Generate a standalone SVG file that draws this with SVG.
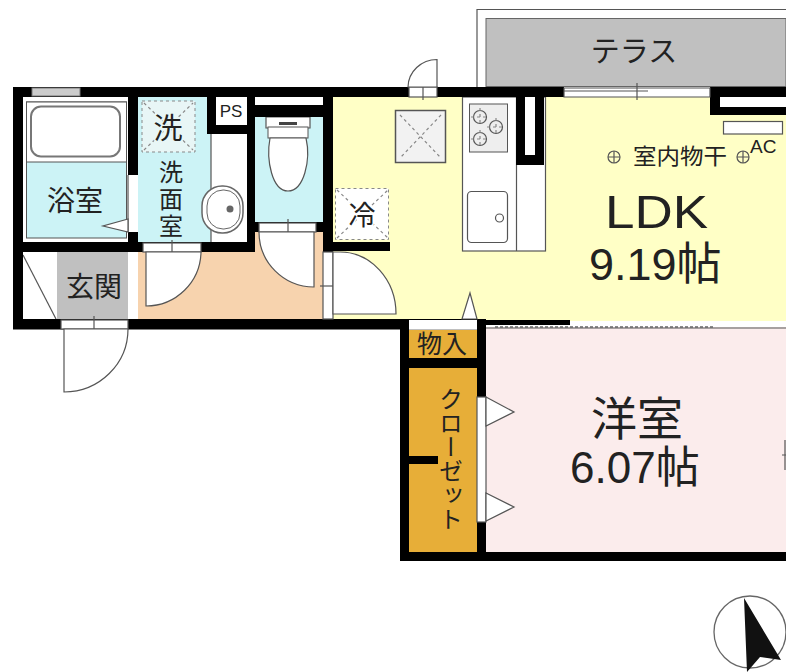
<svg xmlns="http://www.w3.org/2000/svg" width="786" height="672" viewBox="0 0 786 672">
<style>
text{font-family:"Noto Sans CJK JP","Noto Sans",sans-serif;fill:#222}
.l{font-family:"Liberation Sans","Noto Sans CJK JP",sans-serif}
.v{writing-mode:vertical-rl;text-anchor:start}
.w{fill:#000}
.f{fill:#fff;stroke:#555;stroke-width:1.2}
.t{fill:none;stroke:#555;stroke-width:1.2}
.x{fill:none;stroke:#888;stroke-width:1.2;stroke-dasharray:3 3}
</style>
<rect width="786" height="672" fill="#fff"/>
<g id="terrace">
<path class="t" d="M477 87V9.500H786"/>
<rect x="486" y="18.500" width="300" height="68" fill="#c0c0c0" stroke="#666"/>
<text x="634" y="62" font-size="29" text-anchor="middle">テラス</text>
</g>
<g id="ldk">
<rect x="333" y="97" width="453" height="224" fill="#ffffc6"/>
<rect x="720" y="97" width="66" height="10" fill="#fff"/>
<rect x="723.500" y="121.500" width="59" height="12.500" class="f"/>
<circle cx="614" cy="157" r="6" class="t"/><path class="t" d="M608 157h12M614 151v12"/>
<text x="633" y="164" font-size="22" textLength="94" lengthAdjust="spacingAndGlyphs">室内物干</text>
<circle cx="743" cy="157" r="6" class="t"/><path class="t" d="M737 157h12M743 151v12"/>
<text class="l" x="750" y="153" font-size="19">AC</text>
<text class="l" x="605" y="228" font-size="46" textLength="103" lengthAdjust="spacingAndGlyphs">LDK</text>
<text class="l" x="589" y="280" font-size="45">9.19帖</text>
</g>
<g id="kitchen">
<rect x="462.500" y="97" width="83" height="154" class="f"/>
<path class="t" d="M516.500 97V251"/>
<rect x="469.500" y="104" width="38" height="48" fill="#eee" stroke="#555"/>
<circle cx="480" cy="117" r="6.500" class="t" stroke-width="1.500"/><circle cx="496" cy="127" r="6.500" class="t"/><circle cx="480" cy="139" r="6.500" class="t"/>
<path class="x" d="M480 108v18M471 117h18M496 118v18M487 127h18M480 130v18M471 139h18" stroke-dasharray="2 14"/>
<rect x="467.500" y="191.500" width="40" height="51" rx="4" class="f"/>
<circle cx="499.500" cy="218" r="4" class="f"/>
<rect x="516" y="97" width="9" height="67" class="w"/><rect x="535" y="97" width="9" height="67" class="w"/><rect x="516" y="155" width="28" height="10" class="w"/><rect x="525" y="97" width="10" height="58" fill="#fff"/>
<rect x="395.500" y="110.500" width="50" height="52" fill="#f2f2f2" stroke="#555" stroke-width="1.500"/>
<path class="x" d="M400 115L441 158M441 115L400 158"/>
</g>
<g id="fridge">
<rect x="335.500" y="188.500" width="53" height="51" fill="#fff" stroke="#888" stroke-dasharray="3 3"/>
<path class="x" d="M337 238L388 190M337 190L388 238"/>
<text x="362" y="225" font-size="27" text-anchor="middle" style="paint-order:stroke" stroke="#fff" stroke-width="3">冷</text>
</g>
<g id="bath">
<rect x="23" y="97" width="105" height="145" fill="#fff"/>
<rect x="26.500" y="102" width="100" height="136" fill="#ccf3f6" stroke="#555"/>
<rect x="26.500" y="102" width="100" height="60" fill="#fff" stroke="#555"/>
<rect x="31" y="106.500" width="89" height="50" rx="10" fill="#fff" stroke="#777" stroke-width="2"/>
<text x="75" y="211" font-size="28" text-anchor="middle">浴室</text>
</g>
<g id="washroom">
<rect x="138" y="97" width="73" height="145" fill="#ccf3f6"/>
<rect x="211" y="134" width="36" height="108" fill="#fff"/>
<path class="t" d="M211 134V242"/>
<rect x="142" y="101" width="53" height="51" fill="#e8f6f6" stroke="#888" stroke-dasharray="3 3"/>
<path class="x" d="M144 150L193 103M144 103L193 150"/>
<text x="168" y="139" font-size="29" text-anchor="middle" style="paint-order:stroke" stroke="#e8f6f6" stroke-width="3">洗</text>
<text class="v" x="171" y="160" font-size="24" letter-spacing="3">洗面室</text>
<rect x="202" y="186" width="41" height="47" rx="20" fill="#fff" stroke="#666" stroke-width="1.500"/>
<rect x="207" y="190" width="33" height="39" rx="16" fill="#fff" stroke="#666"/>
<circle cx="230" cy="209" r="3.500" fill="#666"/>
</g>
<g id="ps">
<rect x="216" y="97" width="31" height="28" fill="#fff"/>
<text class="l" x="231" y="117" font-size="17" text-anchor="middle">PS</text>
</g>
<g id="toilet">
<rect x="255" y="117" width="68" height="105" fill="#ccf3f6"/>
<rect x="255" y="97" width="68" height="8" fill="#fff"/>
<path class="f" d="M266 117H310V128H266Z"/>
<rect x="268" y="127" width="40" height="11" fill="#fff" stroke="#555"/>
<path class="f" d="M270 138C266 160 272 191 288 191C304 191 311 160 306 138Z"/>
<rect x="279" y="122" width="18" height="3" fill="#444"/>
</g>
<g id="hall">
<path fill="#f7d3ae" d="M138 252H255V232H323V319H138Z"/>
<rect x="128" y="252" width="10" height="67" fill="#fff"/>
</g>
<g id="entrance">
<rect x="23" y="252" width="34" height="67" fill="#fff"/>
<rect x="57" y="252" width="71" height="67" fill="#c0c0c0"/>
<path class="t" d="M23 255L56 319"/>
<text x="94" y="297" font-size="28" text-anchor="middle">玄関</text>
</g>
<g id="western-room">
<rect x="486" y="327" width="300" height="226" fill="#fbecec"/>
<text x="637" y="435" font-size="46" text-anchor="middle">洋室</text>
<text class="l" x="570" y="483" font-size="44">6.07帖</text>
</g>
<g id="storage">
<rect x="409" y="330" width="68" height="28" fill="#e7ae38"/>
<text x="442" y="353" font-size="25" text-anchor="middle">物入</text>
</g>
<g id="closet">
<rect x="409" y="368" width="68" height="184" fill="#e7ae38"/>
<text class="v" x="451" y="387" font-size="24">クローゼット</text>
</g>
<g id="walls">
<rect x="13" y="87" width="551" height="10" class="w"/>
<rect x="13" y="87" width="10" height="242" class="w"/>
<rect x="13" y="319" width="473" height="10.500" class="w"/>
<rect x="13" y="242" width="242" height="10" class="w"/>
<rect x="128" y="97" width="10" height="155" class="w"/>
<rect x="207" y="97" width="9" height="37" class="w"/>
<rect x="207" y="125" width="48" height="9" class="w"/>
<rect x="247" y="97" width="8" height="155" class="w"/>
<rect x="255" y="105" width="68" height="12" class="w"/>
<rect x="323" y="97" width="10" height="155" class="w"/>
<rect x="253" y="222" width="78" height="10" class="w"/>
<rect x="323" y="242" width="67" height="9" class="w"/>
<rect x="710" y="87" width="76" height="10" class="w"/>
<rect x="710" y="87" width="10" height="28" class="w"/>
<rect x="710" y="107" width="76" height="8" class="w"/>
<rect x="400" y="319" width="9" height="242" class="w"/>
<rect x="400" y="552" width="386" height="9" class="w"/>
<rect x="409" y="358" width="77" height="10" class="w"/>
<rect x="477" y="319" width="9" height="233" class="w"/>
<rect x="409" y="456" width="29" height="8" class="w"/>
<rect x="486" y="320" width="84" height="5" class="w"/>
</g>
<g id="openings">
<rect x="32" y="88" width="48" height="8" fill="#ccc" stroke="#777"/>
<rect x="128" y="175" width="10" height="57" fill="#fff"/>
<path class="t" d="M128 175V232"/>
<path class="f" d="M128 219L103 226L128 232Z"/>
<rect x="143" y="243" width="58" height="9" class="f"/>
<path class="t" d="M172 240V256"/>
<rect x="259" y="223" width="57" height="9" class="f"/>
<path class="t" d="M288 219V236"/>
<rect x="61" y="320" width="67" height="9" class="f"/>
<path class="t" d="M94 316V333"/>
<rect x="409" y="87" width="28" height="10" class="f"/>
<path class="t" d="M423 82V100"/>
<path class="f" d="M564 88H710V97H564Z"/>
<path class="t" d="M564 91H648M637 83V100"/>
<rect x="323" y="252" width="10" height="67" class="f"/>
<path class="t" d="M320 286H336"/>
<rect x="409" y="320" width="68" height="9.500" fill="#fff"/>
<rect x="477" y="397" width="9" height="125" class="f"/>
<path class="t" d="M486 328H786"/>
<path d="M495 327H715" fill="none" stroke="#666" stroke-width="1.500" stroke-dasharray="3 2"/>
</g>
<g id="doors">
<path class="f" d="M146 252V306A55 55 0 0 0 201 252Z" stroke-width="1.500"/>
<path class="f" d="M314 232V287A55 55 0 0 1 259 232Z" stroke-width="1.500"/>
<path class="f" d="M64 329V392A64 63 0 0 0 128 329Z" stroke-width="1.500"/>
<path class="f" d="M437 87V59.500A29 28 0 0 0 408 87Z" stroke-width="1.500"/>
<path class="f" d="M333 252H340A56 62 0 0 1 396 314H333Z" stroke-width="1.500"/>
<path class="f" d="M462 319L470 293L477 319Z"/>
<path class="f" d="M486 397L514 412L486 426Z"/>
<path class="f" d="M486 493L514 507L486 521Z"/>
<path class="t" d="M786 455H782M785 440V470"/>
</g>
<g id="compass">
<circle cx="750" cy="632" r="36" fill="#fff" stroke="#666" stroke-width="1.300"/>
<path d="M744 598L781 660L760 657L747 672Z" fill="#111"/>
</g>
</svg>
